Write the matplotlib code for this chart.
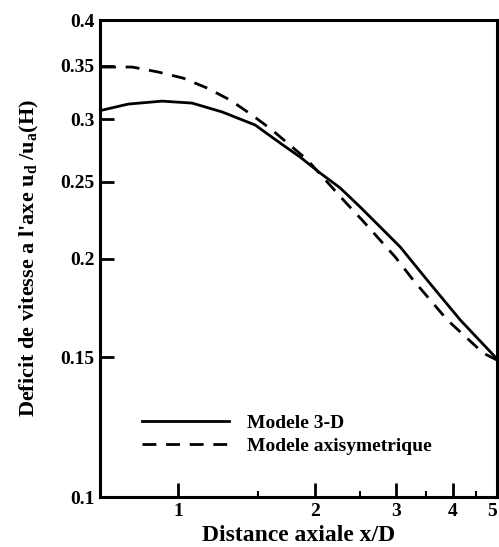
import numpy as np
import matplotlib
matplotlib.use('Agg')
import matplotlib.pyplot as plt
from matplotlib.ticker import FixedLocator, FixedFormatter, NullLocator

# data (log-log axes)
x_3d = [0.681, 0.777, 0.922, 1.073, 1.249, 1.475, 1.674, 1.851, 2.048, 2.266, 2.506, 2.773, 3.068, 3.516, 4.153, 5.0]
y_3d = [0.3078, 0.3133, 0.3160, 0.3142, 0.3062, 0.2948, 0.2797, 0.2686, 0.2564, 0.2455, 0.2323, 0.2192, 0.2068, 0.1878, 0.1673, 0.1494]

x_axi = [0.681, 0.793, 0.904, 1.025, 1.158, 1.300, 1.453, 1.607, 1.918, 2.122, 2.324, 2.532, 2.745, 2.991, 3.277, 3.890, 4.666, 5.0]
y_axi = [0.3489, 0.3489, 0.3439, 0.3379, 0.3282, 0.3170, 0.3034, 0.2905, 0.2665, 0.2498, 0.2357, 0.2236, 0.2123, 0.2009, 0.1878, 0.1673, 0.1519, 0.1489]

x_major = [1, 2, 3, 4, 5]
x_minor = [1.5, 2.5, 3.5, 4.5]
y_major = [0.1, 0.15, 0.2, 0.25, 0.3, 0.35, 0.4]
y_labels = ['0.1', '0.15', '0.2', '0.25', '0.3', '0.35', '0.4']

plt.rcParams['font.family'] = 'Liberation Serif'
plt.rcParams['font.weight'] = 'bold'
plt.rcParams['mathtext.fontset'] = 'custom'
plt.rcParams['mathtext.rm'] = 'Liberation Serif:bold'
plt.rcParams['mathtext.it'] = 'Liberation Serif:bold'
plt.rcParams['mathtext.bf'] = 'Liberation Serif:bold'

fig = plt.figure(figsize=(4.99, 5.47), dpi=100)
ax = fig.add_axes([0.2004, 0.0914, 0.7956, 0.872])

ax.plot(x_3d, y_3d, color='black', lw=2.0, label='Modele 3-D')
ax.plot(x_axi, y_axi, color='black', lw=2.0, dashes=(5, 3.5), label='Modele axisymetrique')

ax.set_xscale('log')
ax.set_yscale('log')
ax.set_xlim(0.674, 5.0)
ax.set_ylim(0.1, 0.4)

ax.xaxis.set_major_locator(FixedLocator(x_major))
ax.xaxis.set_major_formatter(FixedFormatter([str(v) for v in x_major]))
ax.xaxis.set_minor_locator(FixedLocator(x_minor))
ax.xaxis.set_minor_formatter(FixedFormatter([''] * len(x_minor)))
ax.yaxis.set_major_locator(FixedLocator(y_major))
ax.yaxis.set_major_formatter(FixedFormatter(y_labels))
ax.yaxis.set_minor_locator(NullLocator())

ax.tick_params(axis='both', which='major', direction='in', length=10, width=2, labelsize=14, pad=4)
ax.tick_params(axis='x', which='minor', direction='in', length=4, width=1.5)
for s in ax.spines.values():
    s.set_linewidth(2.2)

# last x label sits on the right edge, keep it inside the figure
fig.canvas.draw()
ax.get_xticklabels()[-1].set_horizontalalignment('right')
ax.get_xticklabels()[-1].set_x(5.0)

ax.set_xlabel('Distance axiale x/D', fontsize=17, fontweight='bold', labelpad=4)
ax.set_ylabel(r"Deficit de vitesse a l'axe u$_{d}$ /u$_{a}$(H)", fontsize=16, fontweight='bold', labelpad=14)

leg = ax.legend(loc='upper left', bbox_to_anchor=(0.086, 0.189), borderaxespad=0, frameon=False,
                fontsize=14, handlelength=4.5, handletextpad=0.9, labelspacing=0.25)

fig.savefig('out.png', dpi=100)
